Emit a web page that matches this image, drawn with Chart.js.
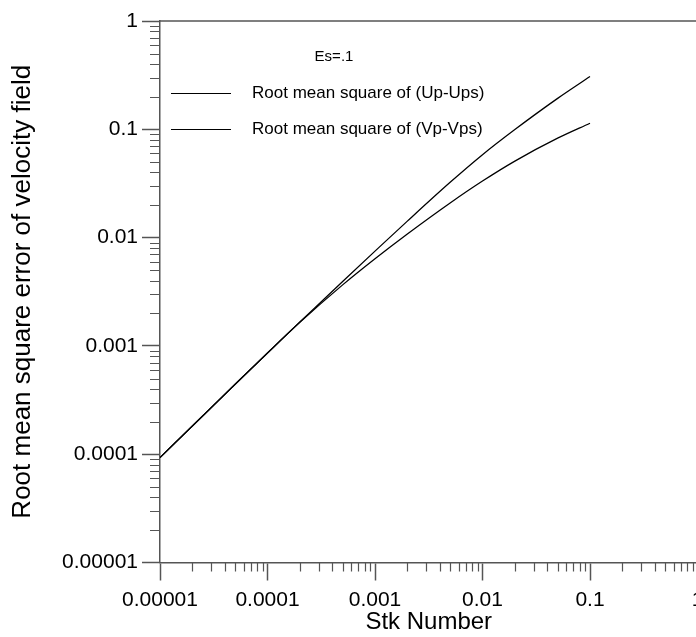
<!DOCTYPE html>
<html>
<head>
<meta charset="utf-8">
<script src="https://cdn.jsdelivr.net/npm/chart.js@4.4.1/dist/chart.umd.min.js"></script>
<style>
  html, body { margin: 0; padding: 0; background: #fff; overflow: hidden; }
  #wrap { width: 740px; height: 637px; }
</style>
</head>
<body>
<div id="wrap"><canvas id="rmsChart" width="740" height="637"></canvas></div>
<script>
// values
const stkNumber = [1e-5, 2e-5, 5e-5, 1e-4, 2e-4, 5e-4, 1e-3, 2e-3, 5e-3, 1e-2, 2e-2, 5e-2, 1e-1];
const rmsU = [9.3e-5, 1.82e-4, 4.43e-4, 8.61e-4, 1.66e-3, 3.94e-3, 7.5e-3, 0.0142, 0.0324, 0.0583, 0.0995, 0.193, 0.307];
const rmsV = [9.3e-5, 1.82e-4, 4.43e-4, 8.61e-4, 1.65e-3, 3.66e-3, 6.38e-3, 0.0108, 0.0209, 0.0333, 0.0509, 0.0828, 0.1138];
const seriesNames = ['Root mean square of (Up-Ups)', 'Root mean square of (Vp-Vps)'];
const noteText = 'Es=.1';

const decadeTicks = [1e-5, 1e-4, 1e-3, 1e-2, 1e-1, 1];
const decadeLabels = ['0.00001', '0.0001', '0.001', '0.01', '0.1', '1'];

const axisColor = '#555';
const fontFamily = "'Liberation Sans', Arial, sans-serif";

// 1..9 x each decade
function logTicks(scale) {
  const out = [];
  decadeTicks.forEach((d, i) => {
    out.push({ value: d, major: true });
    if (i < decadeTicks.length - 1) {
      for (let m = 2; m <= 9; m++) out.push({ value: +(d * m).toPrecision(3), major: false });
    }
  });
  scale.ticks = out;
}

function tickLabel(value) {
  const i = decadeTicks.findIndex(d => Math.abs(d - value) / d < 1e-6);
  return i >= 0 ? decadeLabels[i] : '';
}

const extras = {
  id: 'extras',
  afterDraw(chart) {
    const ctx = chart.ctx;
    const a = chart.chartArea;
    const xs = chart.scales.x, ys = chart.scales.y;
    ctx.save();
    ctx.strokeStyle = axisColor;
    ctx.lineWidth = 1.5;
    ctx.beginPath();
    ctx.moveTo(a.left, a.top);
    ctx.lineTo(a.right, a.top);
    ctx.lineTo(a.right, a.bottom);
    ctx.stroke();

    // minor ticks
    ctx.lineWidth = 1.2;
    ctx.beginPath();
    xs.ticks.forEach(t => {
      if (t.major) return;
      const px = Math.round(xs.getPixelForValue(t.value)) + 0.5;
      ctx.moveTo(px, a.bottom);
      ctx.lineTo(px, a.bottom + 9);
    });
    ys.ticks.forEach(t => {
      if (t.major) return;
      const py = Math.round(ys.getPixelForValue(t.value)) + 0.5;
      ctx.moveTo(a.left - 10, py);
      ctx.lineTo(a.left, py);
    });
    ctx.stroke();

    // legend inside the plot
    ctx.fillStyle = '#000';
    ctx.textBaseline = 'middle';
    ctx.textAlign = 'center';
    ctx.font = '15px ' + fontFamily;
    ctx.fillText(noteText, a.left + 174, a.top + 36);
    ctx.textAlign = 'left';
    ctx.font = '17px ' + fontFamily;
    chart.data.datasets.forEach((ds, i) => {
      const y = a.top + 72 + i * 36;
      ctx.strokeStyle = '#000';
      ctx.lineWidth = 1.2;
      ctx.beginPath();
      ctx.moveTo(a.left + 11, y + 0.5);
      ctx.lineTo(a.left + 71, y + 0.5);
      ctx.stroke();
      ctx.fillText(ds.label, a.left + 92, y);
    });
    ctx.restore();
  }
};

const lineStyle = { borderColor: '#000', backgroundColor: '#000', borderWidth: 1.3, pointRadius: 0,
                    fill: false, cubicInterpolationMode: 'monotone' };

const ctx = document.getElementById('rmsChart').getContext('2d');
new Chart(ctx, {
  type: 'line',
  data: {
    datasets: [
      Object.assign({ label: seriesNames[0], data: stkNumber.map((x, i) => ({ x: x, y: rmsU[i] })) }, lineStyle),
      Object.assign({ label: seriesNames[1], data: stkNumber.map((x, i) => ({ x: x, y: rmsV[i] })) }, lineStyle)
    ]
  },
  options: {
    responsive: false,
    animation: false,
    devicePixelRatio: 1,
    layout: { padding: { top: 21, right: 42.5, left: 0, bottom: 0 } },
    plugins: { legend: { display: false }, tooltip: { enabled: false } },
    scales: {
      x: {
        type: 'logarithmic',
        min: 1e-5,
        max: 1,
        afterBuildTicks: logTicks,
        afterFit: s => { s.height = 74.5; },
        border: { display: true, color: axisColor, width: 1.5 },
        grid: { drawOnChartArea: false, tickLength: 18, tickWidth: 1.5,
                tickColor: c => (c.tick && c.tick.major) ? axisColor : 'rgba(0,0,0,0)' },
        ticks: { autoSkip: false, maxRotation: 0, padding: 7, color: '#000',
                 font: { family: fontFamily, size: 21 }, callback: v => tickLabel(v) },
        title: { display: true, text: 'Stk Number', color: '#000',
                 font: { family: fontFamily, size: 24 }, padding: { top: 0, bottom: 0 } }
      },
      y: {
        type: 'logarithmic',
        min: 1e-5,
        max: 1,
        afterBuildTicks: logTicks,
        afterFit: s => { s.width = 160; },
        border: { display: true, color: axisColor, width: 1.5 },
        grid: { drawOnChartArea: false, tickLength: 18, tickWidth: 1.5,
                tickColor: c => (c.tick && c.tick.major) ? axisColor : 'rgba(0,0,0,0)' },
        ticks: { autoSkip: false, padding: 4, color: '#000',
                 font: { family: fontFamily, size: 21 }, callback: v => tickLabel(v) },
        title: { display: true, text: 'Root mean square error of velocity field', color: '#000',
                 font: { family: fontFamily, size: 26 }, padding: { top: 7, bottom: 0 } }
      }
    }
  },
  plugins: [extras]
});
</script>
</body>
</html>
